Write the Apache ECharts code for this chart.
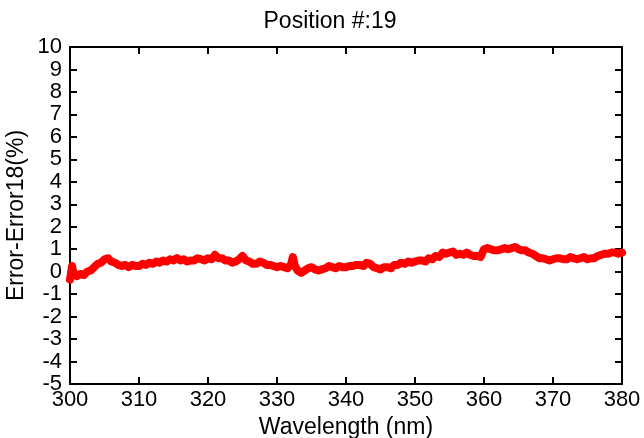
<!DOCTYPE html>
<html>
<head>
<meta charset="utf-8">
<script src="https://cdn.jsdelivr.net/npm/echarts@6/dist/echarts.min.js"></script>
<style>
  html, body { margin: 0; padding: 0; background: #fff; }
  #chart { width: 644px; height: 438px; }
</style>
</head>
<body>
<div id="chart"></div>
<script>
// Wavelength samples (nm) and the error difference (%) at each one
const wavelength = [
  300, 300.3, 300.5, 301, 301.5, 302, 302.5, 303, 303.5, 304, 304.5, 305, 305.5, 306, 306.5,
  307, 307.5, 308, 308.5, 309, 309.5, 310, 310.5, 311, 311.5, 312, 312.5, 313, 313.5,
  314, 314.5, 315, 315.5, 316, 316.5, 317, 317.5, 318, 318.5, 319, 319.5, 320, 320.5,
  321, 321.5, 322, 322.5, 323, 323.5, 324, 324.5, 325, 325.5, 326, 326.5, 327, 327.5,
  328, 328.5, 329, 329.5, 330, 330.5, 331, 331.5, 332, 332.3, 332.6, 333, 333.5,
  334, 334.5, 335, 335.5, 336, 336.5, 337, 337.5, 338, 338.5, 339, 339.5, 340, 340.5,
  341, 341.5, 342, 342.5, 343, 343.5, 344, 344.5, 345, 345.5, 346, 346.5, 347, 347.5,
  348, 348.5, 349, 349.5, 350, 350.5, 351, 351.5, 352, 352.5, 353, 353.5, 354, 354.5,
  355, 355.5, 356, 356.5, 357, 357.5, 358, 358.5, 359, 359.5, 360, 360.5,
  361, 361.5, 362, 362.5, 363, 363.5, 364, 364.5, 365, 365.5, 366, 366.5, 367, 367.5,
  368, 368.5, 369, 369.5, 370, 370.5, 371, 371.5, 372, 372.5, 373, 373.5, 374, 374.5,
  375, 375.5, 376, 376.5, 377, 377.5, 378, 378.5, 379, 379.5, 380
];
const errorPct = [
  -0.35, 0.25, -0.05, -0.2, -0.1, -0.15, 0.0, 0.05, 0.2, 0.35, 0.4, 0.55, 0.6, 0.45, 0.4,
  0.3, 0.25, 0.3, 0.2, 0.3, 0.25, 0.25, 0.35, 0.3, 0.4, 0.35, 0.45, 0.4, 0.5,
  0.45, 0.55, 0.5, 0.6, 0.5, 0.55, 0.45, 0.5, 0.5, 0.6, 0.55, 0.5, 0.6, 0.55,
  0.75, 0.6, 0.6, 0.5, 0.5, 0.4, 0.45, 0.55, 0.7, 0.5, 0.45, 0.35, 0.35, 0.45,
  0.4, 0.3, 0.3, 0.25, 0.2, 0.25, 0.2, 0.15, 0.3, 0.65, 0.25, 0.05, -0.05,
  0.05, 0.15, 0.2, 0.1, 0.05, 0.1, 0.15, 0.25, 0.2, 0.15, 0.25, 0.2, 0.2, 0.25,
  0.25, 0.3, 0.3, 0.25, 0.4, 0.35, 0.2, 0.15, 0.1, 0.2, 0.2, 0.15, 0.3, 0.3,
  0.4, 0.35, 0.45, 0.4, 0.45, 0.5, 0.5, 0.45, 0.6, 0.55, 0.7, 0.65, 0.85, 0.8,
  0.85, 0.9, 0.75, 0.8, 0.75, 0.85, 0.75, 0.7, 0.7, 0.65, 1.0, 1.05,
  1.0, 0.95, 0.95, 1.0, 1.05, 1.0, 1.05, 1.1, 1.0, 0.95, 0.95, 0.85, 0.8, 0.7,
  0.6, 0.6, 0.55, 0.5, 0.55, 0.6, 0.6, 0.55, 0.55, 0.65, 0.6, 0.55, 0.6, 0.65,
  0.55, 0.6, 0.6, 0.7, 0.75, 0.8, 0.8, 0.85, 0.85, 0.8, 0.85
];
const xTicks = { min: 300, max: 380, step: 10 };
const yTicks = { min: -5, max: 10, step: 1 };

const FONT = 'Liberation Sans, Arial, sans-serif';
const points = wavelength.map((w, i) => [w, errorPct[i]]);

const axisLine = { show: true, onZero: false, lineStyle: { color: '#000', width: 2 } };
const tickIn = { show: true, inside: true, length: 7, lineStyle: { color: '#000', width: 2 } };

const chart = echarts.init(document.getElementById('chart'), null, { renderer: 'canvas' });
chart.setOption({
  animation: false,
  backgroundColor: '#fff',
  title: {
    text: 'Position #:19',
    left: 325, top: 5, textAlign: 'center',
    textStyle: { fontFamily: FONT, fontSize: 23, fontWeight: 'normal', color: '#000' }
  },
  grid: {
    left: 70, right: 22, top: 47, bottom: 54,
    containLabel: false, outerBoundsMode: 'none'
  },
  xAxis: [
    {
      type: 'value', position: 'bottom',
      min: xTicks.min, max: xTicks.max, interval: xTicks.step,
      name: 'Wavelength (nm)', nameLocation: 'middle', nameGap: 31,
      nameTextStyle: { fontFamily: FONT, fontSize: 23, color: '#000' },
      axisLine, axisTick: tickIn, splitLine: { show: false },
      axisLabel: {
        fontFamily: FONT, fontSize: 22, lineHeight: 18, color: '#000', margin: 7,
        showMinLabel: true, showMaxLabel: true, hideOverlap: false
      }
    },
    {
      type: 'value', position: 'top',
      min: xTicks.min, max: xTicks.max, interval: xTicks.step,
      axisLine, axisTick: tickIn, splitLine: { show: false },
      axisLabel: { show: false }
    }
  ],
  yAxis: [
    {
      type: 'value', position: 'left',
      min: yTicks.min, max: yTicks.max, interval: yTicks.step,
      name: 'Error-Error18(%)', nameLocation: 'middle', nameGap: 42, nameRotate: 90,
      nameMoveOverlap: false,
      nameTextStyle: { fontFamily: FONT, fontSize: 23, color: '#000' },
      axisLine, axisTick: tickIn, splitLine: { show: false },
      axisLabel: {
        fontFamily: FONT, fontSize: 22, lineHeight: 18, color: '#000', margin: 8,
        showMinLabel: true, showMaxLabel: true, hideOverlap: false
      }
    },
    {
      type: 'value', position: 'right',
      min: yTicks.min, max: yTicks.max, interval: yTicks.step,
      axisLine, axisTick: tickIn, splitLine: { show: false },
      axisLabel: { show: false }
    }
  ],
  series: [
    {
      type: 'line',
      data: points,
      showSymbol: false,
      lineStyle: { color: '#ff0000', width: 8, join: 'round', cap: 'round' }
    }
  ]
});
</script>
</body>
</html>
